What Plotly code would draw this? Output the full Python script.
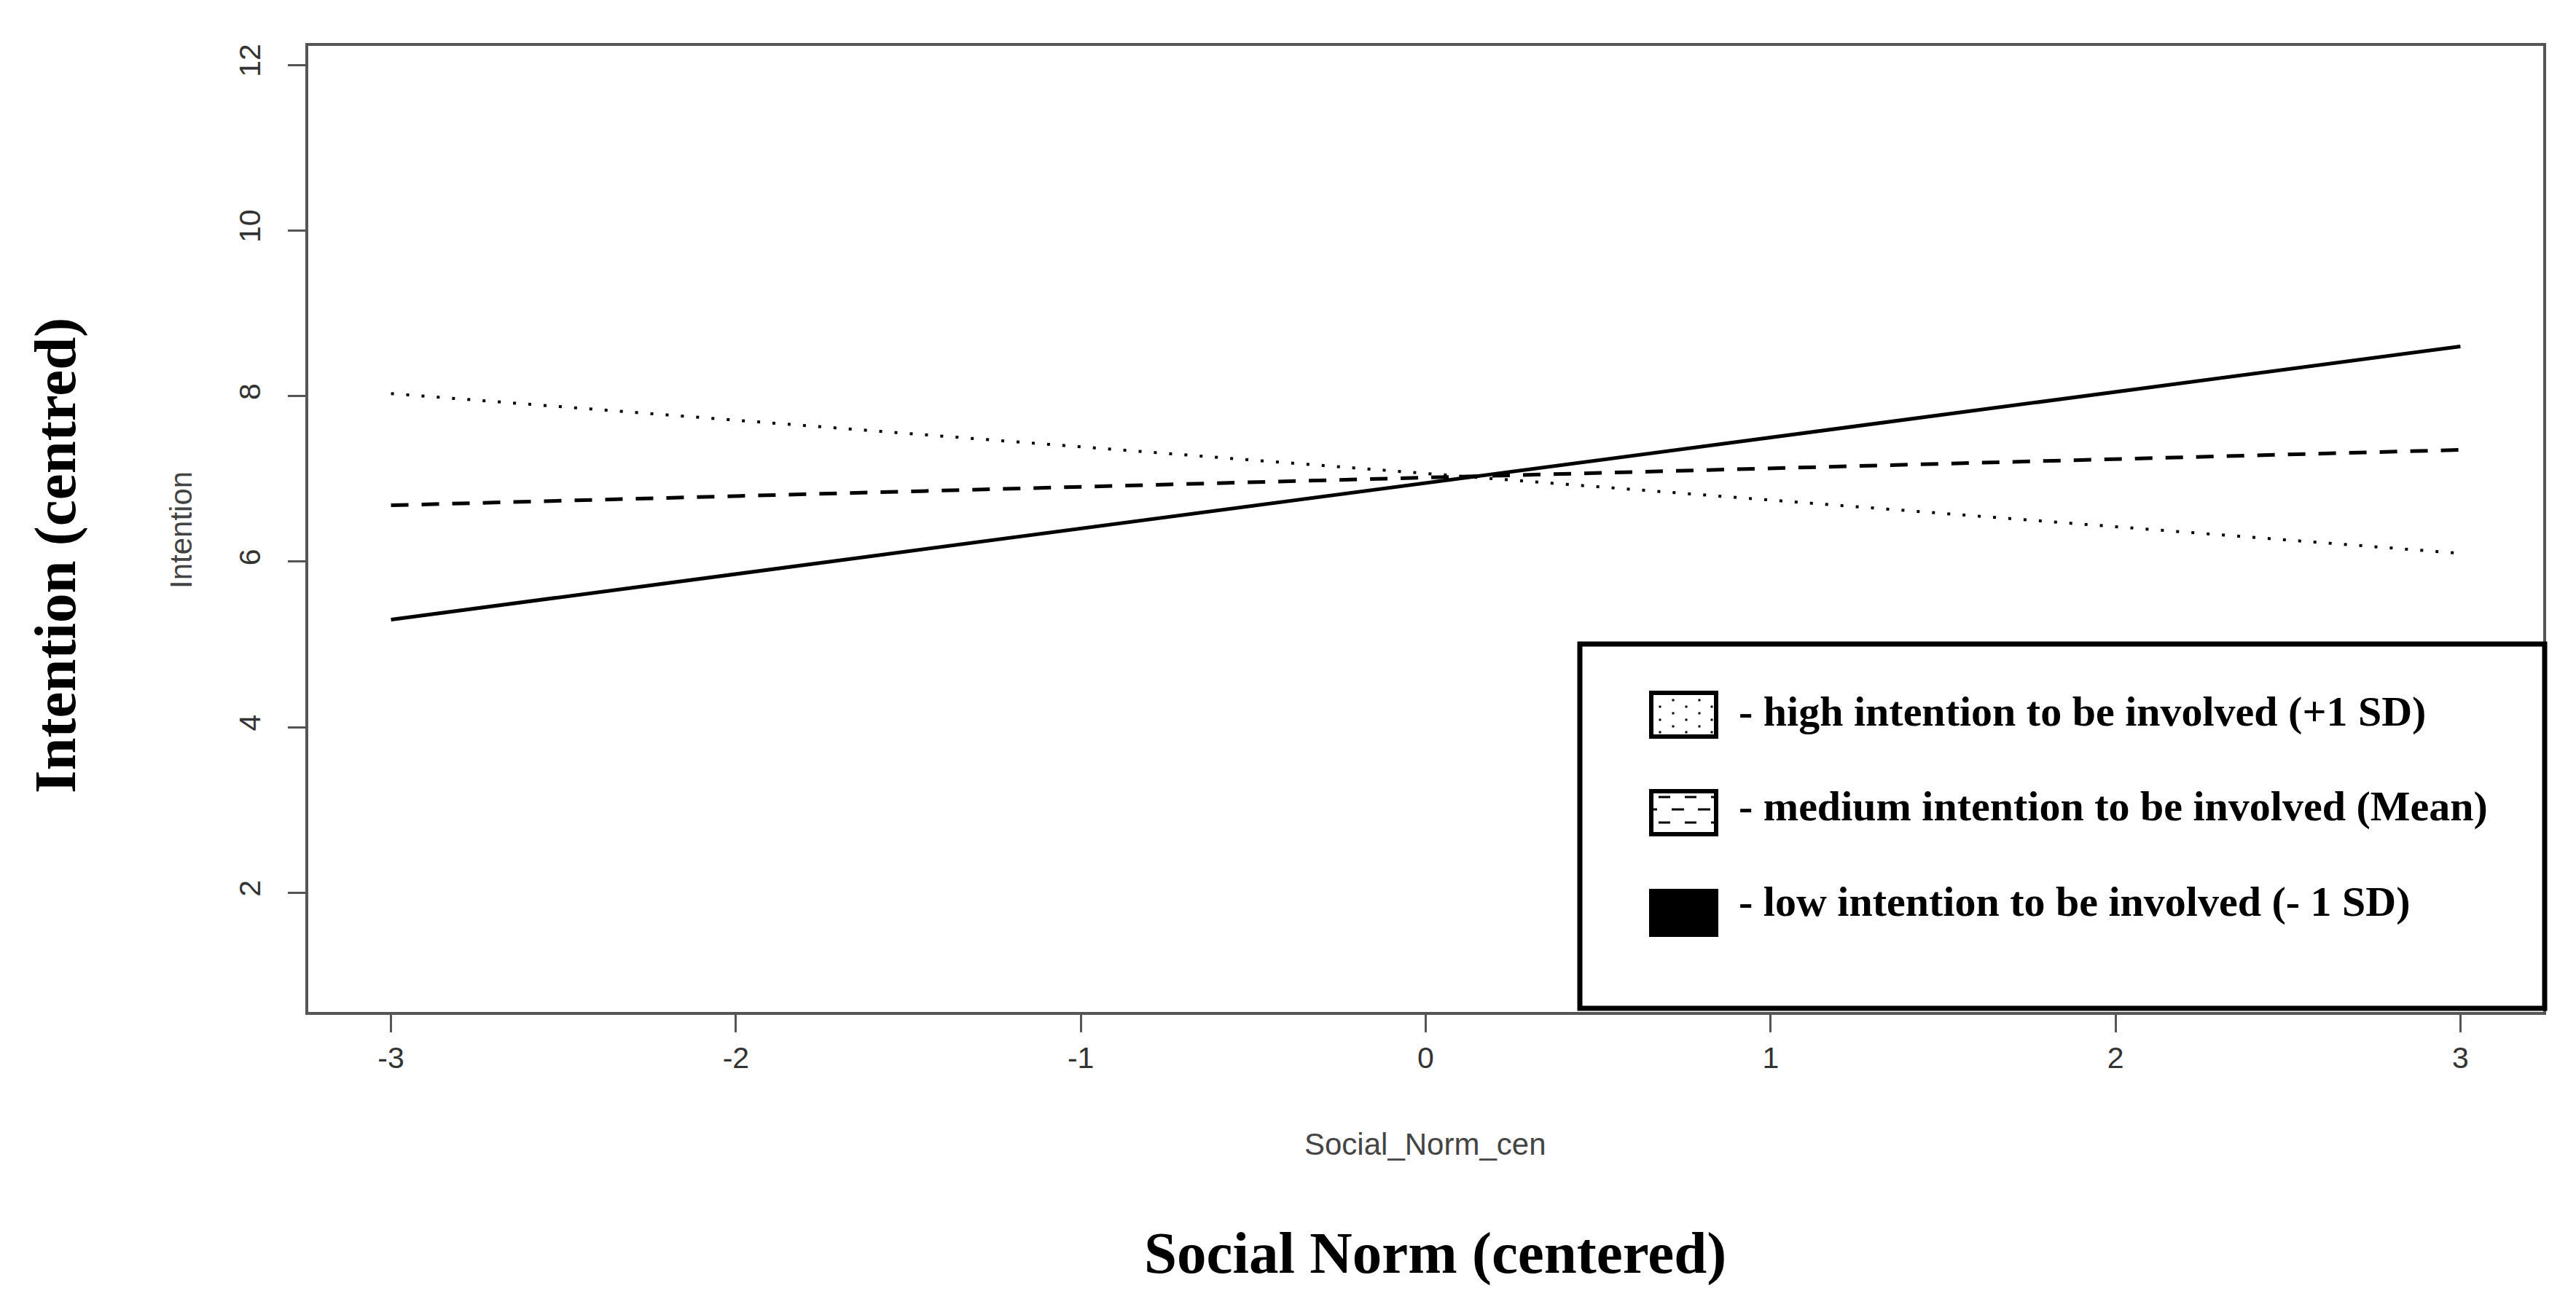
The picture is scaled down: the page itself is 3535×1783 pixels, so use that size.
import plotly.graph_objects as go

# ---- data ----
x_vals = [-3, 3]
high_int = [8.03, 6.10]     # +1 SD (dotted)
medium_int = [6.68, 7.35]   # Mean (dashed)
low_int = [5.30, 8.60]      # -1 SD (solid)

x_ticks = [-3, -2, -1, 0, 1, 2, 3]
y_ticks = [2, 4, 6, 8, 10, 12]

legend_labels = [
    "- high intention to be involved (+1 SD)",
    "- medium intention to be involved (Mean)",
    "- low intention to be involved (- 1 SD)",
]

W, H = 3535, 1783
L, R_, T, B = 415, 3482, 55, 1381  # plot-area pixel bounds


def px(x):
    return (x - L) / (R_ - L)


def py(y):
    return (B - y) / (B - T)


fig = go.Figure()
fig.add_trace(go.Scatter(x=x_vals, y=high_int, mode="lines",
                         line=dict(color="black", width=4, dash="4px,17px"),
                         showlegend=False))
fig.add_trace(go.Scatter(x=x_vals, y=medium_int, mode="lines",
                         line=dict(color="black", width=5, dash="24px,18px"),
                         showlegend=False))
fig.add_trace(go.Scatter(x=x_vals, y=low_int, mode="lines",
                         line=dict(color="black", width=5),
                         showlegend=False))

axis_common = dict(showline=True, linecolor="#555555", linewidth=4, mirror=True,
                   ticks="outside", ticklen=24, tickwidth=3, tickcolor="#555555",
                   showgrid=False, zeroline=False,
                   tickfont=dict(family="Liberation Sans", size=41, color="#333333"))

fig.update_xaxes(range=[-3.24, 3.24], tickvals=x_ticks,
                 ticktext=[str(v) for v in x_ticks], **axis_common)
fig.update_yaxes(range=[0.56, 12.23], tickvals=y_ticks,
                 ticktext=[str(v) for v in y_ticks], tickangle=-90,
                 ticklabelstandoff=22, **axis_common)

shapes = []
annotations = []


def rect(x0, y0, x1, y1, fill, lw, lc="black"):
    shapes.append(dict(type="rect", xref="paper", yref="paper",
                       x0=px(x0), x1=px(x1), y0=py(y1), y1=py(y0),
                       line=dict(color=lc, width=lw), fillcolor=fill, layer="above"))


def seg(x0, y0, x1, y1, w):
    shapes.append(dict(type="line", xref="paper", yref="paper",
                       x0=px(x0), x1=px(x1), y0=py(y0), y1=py(y1),
                       line=dict(color="black", width=w), layer="above"))


# legend box
rect(2160, 876, 3484, 1376, "white", 7)

sym_x0, sym_x1 = 2255, 2350
rows = [(940, 1006), (1075, 1140), (1212, 1278)]

# symbol 1: staggered dot pattern
y0, y1 = rows[0]
rect(sym_x0 + 3, y0 + 3, sym_x1 - 3, y1 - 3, "white", 6)
for i, cx in enumerate([2270, 2288, 2306, 2324, 2341]):
    ys = [962, 980, 997] if i % 2 == 0 else [953, 971, 989]
    for cy in ys:
        rect(cx - 1.5, cy - 1.5, cx + 1.5, cy + 1.5, "black", 0, "rgba(0,0,0,0)")

# symbol 2: dashed pattern
y0, y1 = rows[1]
rect(sym_x0 + 3, y0 + 3, sym_x1 - 3, y1 - 3, "white", 6)
for yy in [1086, 1121]:
    for xa, xb in [(2268, 2284), (2304, 2320), (2340, 2344)]:
        seg(xa, yy, xb, yy, 3)
for xa, xb in [(2261, 2266), (2286, 2303), (2322, 2339)]:
    seg(xa, 1103, xb, 1103, 3)

# symbol 3: solid
y0, y1 = rows[2]
rect(sym_x0, y0, sym_x1, y1, "black", 0, "rgba(0,0,0,0)")

for yc, lab in zip([968, 1098, 1229], legend_labels):
    annotations.append(dict(text=lab, xref="paper", yref="paper",
                            x=px(2376), y=py(yc), xanchor="left", yanchor="middle",
                            showarrow=False,
                            font=dict(family="Liberation Serif", size=58, color="black", weight="bold")))

# axis titles
annotations.append(dict(text="Social_Norm_cen", xref="paper", yref="paper",
                        x=px(1948), y=py(1562), xanchor="center", yanchor="middle",
                        showarrow=False,
                        font=dict(family="Liberation Sans", size=42, color="#444444")))
annotations.append(dict(text="<b>Social Norm (centered)</b>", xref="paper", yref="paper",
                        x=px(1961), y=py(1712), xanchor="center", yanchor="middle",
                        showarrow=False,
                        font=dict(family="Liberation Serif", size=81, color="black")))
annotations.append(dict(text="Intention", xref="paper", yref="paper",
                        x=px(240), y=py(720), xanchor="center", yanchor="middle",
                        textangle=-90, showarrow=False,
                        font=dict(family="Liberation Sans", size=42, color="#444444")))
annotations.append(dict(text="<b>Intention (centred)</b>", xref="paper", yref="paper",
                        x=px(68), y=py(755), xanchor="center", yanchor="middle",
                        textangle=-90, showarrow=False,
                        font=dict(family="Liberation Serif", size=81, color="black")))

fig.update_layout(width=W, height=H,
                  margin=dict(l=L, r=W - R_, t=T, b=H - B, pad=0),
                  paper_bgcolor="white", plot_bgcolor="white",
                  shapes=shapes, annotations=annotations, showlegend=False)

fig.write_html("out.html")
